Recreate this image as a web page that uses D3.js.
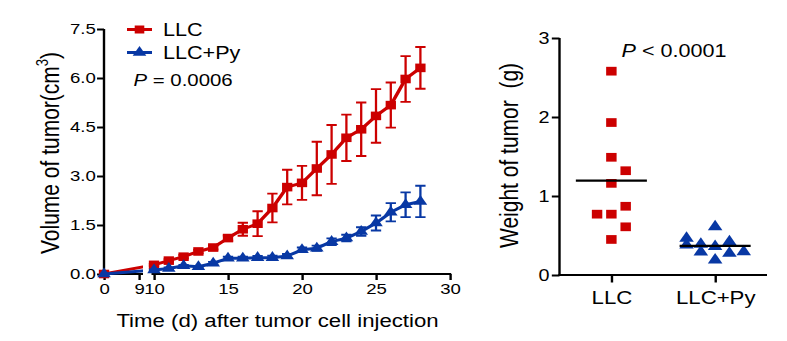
<!DOCTYPE html>
<html><head><meta charset="utf-8">
<script src="https://cdn.jsdelivr.net/npm/d3@7/dist/d3.min.js"></script>
<style>
html,body{margin:0;padding:0;background:#fff;}
svg{display:block;}
text{font-family:"Liberation Sans",Arial,Helvetica,sans-serif;fill:#000;}
</style>
</head><body>
<svg id="c" width="787" height="341"></svg>
<script>
// ---------- data ----------
const days = [0,10,11,12,13,14,15,16,17,18,19,20,21,22,23,24,25,26,27,28];
const llcVolume    = [0,0.28,0.41,0.53,0.69,0.81,1.10,1.37,1.54,2.02,2.66,2.79,3.23,3.66,4.17,4.43,4.84,5.17,5.97,6.31];
const llcVolumeErr = [0,0.03,0.04,0.05,0.05,0.06,0.08,0.20,0.38,0.44,0.53,0.52,0.82,0.90,0.71,0.82,0.82,0.69,0.70,0.64];
const pyVolume     = [0,0.12,0.17,0.25,0.22,0.33,0.48,0.48,0.50,0.50,0.55,0.74,0.79,0.99,1.10,1.30,1.56,1.89,2.12,2.22];
const pyVolumeErr  = [0,0.02,0.03,0.03,0.03,0.04,0.05,0.05,0.05,0.06,0.06,0.07,0.08,0.10,0.10,0.13,0.23,0.28,0.38,0.48];
const volumeTicks = [0,1.5,3,4.5,6,7.5];
const dayTicksA = [0,9];
const dayTicksB = [10,15,20,25,30];
const seriesNames = ["LLC","LLC+Py"];
const groups = ["LLC","LLC+Py"];
const llcWeight = [2.58,1.93,1.49,1.32,1.16,0.87,0.77,0.77,0.61,0.45];
const llcSlot   = [0,0,0,1,0,1,-1,0,1,0];
const pyWeight  = [0.61,0.465,0.38,0.39,0.29,0.36,0.19,0.42,0.275,0.295];
const pySlot    = [0,-2,-2,-1,-1,0,0,1,1,2];
const weightTicks = [0,1,2,3];
const pText1 = "0.0006";
const pText2 = "0.0001";

// ---------- setup ----------
const RED = "#cc0000", BLUE = "#0838a4";
const SX = 1.2;                 // horizontal stretch of the original figure
const W = 787 / SX, H = 341;
const svg = d3.select("#c").attr("viewBox", `0 0 ${W} ${H}`).attr("preserveAspectRatio","none");

// ---------- left chart ----------
const yV = d3.scaleLinear().domain([0,7.5]).range([274,29]);
const xA = d3.scaleLinear().domain([0,9]).range([104/SX,139/SX]);
const xB = d3.scaleLinear().domain([10,30]).range([154/SX,450/SX]);
const xD = d => d < 9.5 ? xA(d) : xB(d);

const defs = svg.append("defs");
const clip = defs.append("clipPath").attr("id","brk");
clip.append("rect").attr("x",0).attr("y",0).attr("width",143/SX).attr("height",H);
clip.append("rect").attr("x",151.5/SX).attr("y",0).attr("width",W).attr("height",H);

const left = svg.append("g");

// y axis
const yAxis = left.append("g").attr("transform",`translate(${xA(0)},0)`)
  .call(d3.axisLeft(yV).tickValues(volumeTicks).tickFormat(d3.format(".1f")).tickSize(5.8).tickPadding(1).tickSizeOuter(0));
yAxis.select(".domain").attr("stroke-width",2).attr("d",`M0,${yV(0)}V${yV(7.5)}`);
yAxis.selectAll(".tick line").attr("stroke-width",2);
yAxis.selectAll(".tick text").attr("font-size",15.5).style("font-family","Liberation Sans, Arial, sans-serif");

// x axes (broken)
function bottomAxis(scale, ticks, x0, x1){
  const g = left.append("g").attr("transform",`translate(0,${yV(0)})`)
    .call(d3.axisBottom(scale).tickValues(ticks).tickSize(6).tickPadding(3).tickSizeOuter(0));
  g.select(".domain").attr("stroke-width",2).attr("d",`M${x0},0H${x1}`);
  g.selectAll(".tick line").attr("stroke-width",2);
  g.selectAll(".tick text").attr("font-size",15.5).style("font-family","Liberation Sans, Arial, sans-serif");
  return g;
}
bottomAxis(xA, dayTicksA, xA(0)-1, 143/SX);
bottomAxis(xB, dayTicksB, 151.5/SX, xB(30)+1);

// axis titles
const yt = left.append("text")
  .attr("transform",`translate(${58.5/SX},153) rotate(-90)`)
  .attr("text-anchor","middle").attr("font-size",21);
yt.append("tspan").text("Volume of tumor(cm");
yt.append("tspan").attr("font-size",13).attr("dy",-9).text("3");
yt.append("tspan").attr("dy",9).text(")");

left.append("text").attr("x",277.5/SX).attr("y",327).attr("text-anchor","middle")
  .attr("font-size",18.5).text("Time (d) after tumor cell injection");

function drawSeries(vals, errs, color, shape, size){
  const pts = days.map((d,i)=>({d, v:vals[i], e:errs[i]}));
  left.append("path").datum(pts).attr("clip-path","url(#brk)")
    .attr("fill","none").attr("stroke",color).attr("stroke-width",3).attr("stroke-linejoin","round")
    .attr("d", d3.line().x(p=>xD(p.d)).y(p=>yV(p.v)));
  const cap = 4.3;
  const eb = left.append("g").attr("stroke",color).attr("stroke-width",1.9).attr("fill","none");
  pts.filter(p=>p.e>0).forEach(p=>{
    const x = xD(p.d), y1 = yV(p.v - p.e), y2 = yV(p.v + p.e);
    eb.append("path").attr("d",`M${x},${y1}V${y2}M${x-cap},${y1}H${x+cap}M${x-cap},${y2}H${x+cap}`);
  });
  left.append("g").selectAll("path").data(pts).join("path")
    .attr("transform",p=>`translate(${xD(p.d)},${yV(p.v)})`)
    .attr("d", d3.symbol(shape, size)).attr("fill",color);
}
drawSeries(llcVolume, llcVolumeErr, RED, d3.symbolSquare, 74);
drawSeries(pyVolume, pyVolumeErr, BLUE, d3.symbolTriangle, 56);

// legend
const legend = left.append("g");
[[RED,d3.symbolSquare,64,29.5,36],[BLUE,d3.symbolTriangle,56,52.5,59]].forEach((r,i)=>{
  legend.append("line").attr("x1",127/SX).attr("x2",152/SX).attr("y1",r[3]).attr("y2",r[3])
    .attr("stroke",r[0]).attr("stroke-width",3);
  legend.append("path").attr("transform",`translate(${139.5/SX},${r[3]})`).attr("d",d3.symbol(r[1],r[2])).attr("fill",r[0]);
  legend.append("text").attr("x",163/SX).attr("y",r[4]).attr("font-size",18).text(seriesNames[i]);
});
const p1 = left.append("text").attr("x",133.5/SX).attr("y",86.5).attr("font-size",17);
p1.append("tspan").attr("font-style","italic").text("P");
p1.append("tspan").text(" = " + pText1);

// ---------- right chart ----------
const yW = d3.scaleLinear().domain([0,3]).range([275,38]);
const xG = d3.scalePoint().domain(groups).range([559.5/SX,767/SX]).padding(0.5);
const jit = d3.scaleLinear().domain([0,1]).range([0,14.3/SX]);
const right = svg.append("g");

const ry = right.append("g").attr("transform",`translate(${559.5/SX},0)`)
  .call(d3.axisLeft(yW).tickValues(weightTicks).tickFormat(d3.format("d")).tickSize(6.4).tickPadding(2).tickSizeOuter(0));
ry.select(".domain").attr("stroke-width",2).attr("d",`M0,${yW(0)}V${yW(3)}`);
ry.selectAll(".tick line").attr("stroke-width",2);
ry.selectAll(".tick text").attr("font-size",16.5).style("font-family","Liberation Sans, Arial, sans-serif");

const rx = right.append("g").attr("transform",`translate(0,${yW(0)})`)
  .call(d3.axisBottom(xG).tickSize(7.5).tickPadding(8).tickSizeOuter(0));
rx.select(".domain").attr("stroke-width",2).attr("d",`M${559.5/SX-1},0H${767/SX}`);
rx.selectAll(".tick line").attr("stroke-width",2);
rx.selectAll(".tick text").attr("font-size",18.5).style("font-family","Liberation Sans, Arial, sans-serif");

right.append("text")
  .attr("transform",`translate(${518.3/SX},155.5) rotate(-90)`)
  .attr("text-anchor","middle").attr("font-size",21).style("white-space","pre")
  .text("Weight of tumor  (g)");

function drawGroup(vals, slots, group, color, shape, size){
  const cx = xG(group);
  const m = d3.mean(vals);
  right.append("g").selectAll("path").data(vals).join("path")
    .attr("transform",(v,i)=>`translate(${cx + jit(slots[i])},${yW(v)})`)
    .attr("d", d3.symbol(shape,size)).attr("fill",color);
  right.append("line").attr("x1",cx-29.6).attr("x2",cx+29.6).attr("y1",yW(m)).attr("y2",yW(m))
    .attr("stroke","#000").attr("stroke-width",2.2);
}
drawGroup(llcWeight, llcSlot, groups[0], RED, d3.symbolSquare, 76);
drawGroup(pyWeight, pySlot, groups[1], BLUE, d3.symbolTriangle, 64);

const p2 = right.append("text").attr("x",621.5/SX).attr("y",57.5).attr("font-size",18);
p2.append("tspan").attr("font-style","italic").text("P");
p2.append("tspan").text(" < " + pText2);
</script>
</body></html>
